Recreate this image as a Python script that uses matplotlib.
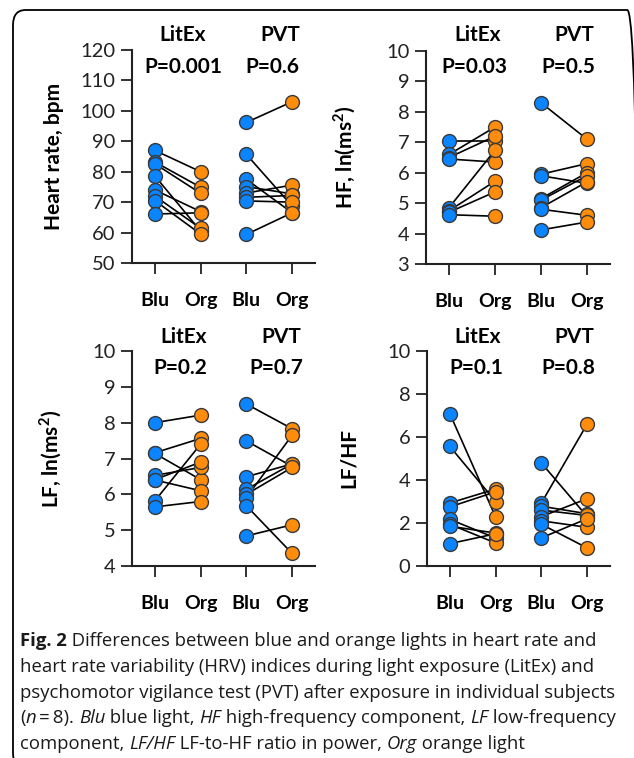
import matplotlib.pyplot as plt
import matplotlib.patches as mpatches
import numpy as np

# === Data (one value per subject, n = 8) ===
hr_litex_blu = [87.0, 83.2, 82.6, 78.6, 74.0, 72.0, 70.5, 66.1]
hr_litex_org = [80.0, 74.9, 72.9, 60.5, 66.9, 61.4, 59.5, 66.5]
hr_pvt_blu = [96.2, 85.7, 77.5, 75.1, 73.0, 71.6, 70.4, 59.4]
hr_pvt_org = [103.0, 68.7, 66.5, 72.7, 75.6, 72.2, 70.0, 66.5]

hf_litex_blu = [7.05, 6.60, 6.50, 6.45, 4.85, 4.75, 4.70, 4.62]
hf_litex_org = [7.05, 7.50, 7.20, 6.35, 6.74, 5.72, 5.37, 4.57]
hf_pvt_blu = [8.30, 5.95, 5.90, 5.15, 5.10, 4.85, 4.80, 4.12]
hf_pvt_org = [7.10, 6.30, 5.65, 6.00, 5.90, 5.70, 4.60, 4.38]

lf_litex_blu = [8.00, 7.16, 7.14, 6.53, 6.41, 6.40, 5.82, 5.65]
lf_litex_org = [8.21, 7.56, 6.41, 6.75, 6.90, 6.10, 7.40, 5.80]
lf_pvt_blu = [8.52, 7.49, 6.49, 6.14, 6.00, 5.91, 5.68, 4.84]
lf_pvt_org = [7.83, 6.78, 6.85, 6.85, 6.75, 7.65, 4.35, 5.15]

lfhf_litex_blu = [7.08, 5.56, 2.93, 2.75, 2.17, 1.94, 1.85, 1.04]
lfhf_litex_org = [2.28, 3.00, 3.58, 3.45, 1.30, 1.07, 1.53, 1.50]
lfhf_pvt_blu = [4.79, 2.93, 2.78, 2.60, 2.30, 2.10, 1.94, 1.31]
lfhf_pvt_org = [2.30, 6.60, 2.43, 2.35, 3.13, 1.80, 0.84, 2.20]

x_labels = ['Blu', 'Org', 'Blu', 'Org']
p_litex = ['P=0.001', 'P=0.03', 'P=0.2', 'P=0.1']
p_pvt = ['P=0.6', 'P=0.5', 'P=0.7', 'P=0.8']
y_titles = ['Heart rate, bpm', r'HF, ln(ms$^{\mathbf{2}}$)',
            r'LF, ln(ms$^{\mathbf{2}}$)', 'LF/HF']

# === Style ===
W, H = 634, 758
BLUE = '#0a84ff'
ORANGE = '#ff8c0a'
EDGE = '#3a3a3a'
plt.rcParams['font.family'] = ['Lato', 'DejaVu Sans']
plt.rcParams['mathtext.fontset'] = 'custom'
plt.rcParams['mathtext.rm'] = 'Lato'
plt.rcParams['mathtext.bf'] = 'Lato:bold'

fig = plt.figure(figsize=(W / 100, H / 100), dpi=100)


def px(x, y):
    return x / W, 1 - y / H


def make_axes(left, top, right, bottom):
    return fig.add_axes([left / W, 1 - bottom / H, (right - left) / W, (bottom - top) / H])


def draw_panel(ax, blu_l, org_l, blu_p, org_p, ylim, yticks, ytitle):
    for a, b in zip(blu_l, org_l):
        ax.plot([1, 2], [a, b], color='black', lw=1.2, zorder=2)
    for a, b in zip(blu_p, org_p):
        ax.plot([3, 4], [a, b], color='black', lw=1.2, zorder=2)
    ax.plot([1] * len(blu_l), blu_l, 'o', ms=10, mfc=BLUE, mec=EDGE, mew=1.0, zorder=3)
    ax.plot([2] * len(org_l), org_l, 'o', ms=10, mfc=ORANGE, mec=EDGE, mew=1.0, zorder=3)
    ax.plot([3] * len(blu_p), blu_p, 'o', ms=10, mfc=BLUE, mec=EDGE, mew=1.0, zorder=3)
    ax.plot([4] * len(org_p), org_p, 'o', ms=10, mfc=ORANGE, mec=EDGE, mew=1.0, zorder=3)
    ax.set_xlim(0.5, 4.5)
    ax.set_ylim(*ylim)
    ax.set_yticks(yticks)
    ax.set_xticks([1, 2, 3, 4])
    ax.set_xticklabels(x_labels, fontsize=14, fontweight='bold')
    ax.tick_params(axis='y', labelsize=14.5, length=8, width=1.3, pad=4,
                   color='#222222', labelcolor='#222222')
    ax.tick_params(axis='x', length=8, width=1.3, pad=13, color='#222222')
    for s in ['top', 'right']:
        ax.spines[s].set_visible(False)
    for s in ['left', 'bottom']:
        ax.spines[s].set_linewidth(1.5)
        ax.spines[s].set_color('#222222')
    ax.patch.set_alpha(0)
    ax.set_ylabel(ytitle, fontsize=15, fontweight='bold')
    ax.yaxis.set_label_coords(-0.37, 0.5)
    for sp in ax.spines.values():
        sp.set_clip_on(False)


ax1 = make_axes(132, 50, 315, 263)
draw_panel(ax1, hr_litex_blu, hr_litex_org, hr_pvt_blu, hr_pvt_org,
           (50, 120), np.arange(50, 121, 10), y_titles[0])
ax2 = make_axes(426, 51, 610, 264)
draw_panel(ax2, hf_litex_blu, hf_litex_org, hf_pvt_blu, hf_pvt_org,
           (3, 10), np.arange(3, 11, 1), y_titles[1])
ax3 = make_axes(132, 351, 315, 566)
draw_panel(ax3, lf_litex_blu, lf_litex_org, lf_pvt_blu, lf_pvt_org,
           (4, 10), np.arange(4, 11, 1), y_titles[2])
ax4 = make_axes(427, 351, 610, 566)
draw_panel(ax4, lfhf_litex_blu, lfhf_litex_org, lfhf_pvt_blu, lfhf_pvt_org,
           (0, 10), np.arange(0, 11, 2), y_titles[3])

# condition titles and P values (pixel positions)
title_pos = [(183, 280, 35, 183, 272, 67), (478, 574, 35, 474, 568, 67),
             (184, 281, 337, 180, 276, 368), (478, 574, 337, 476, 568, 368)]
for i, (xl, xp, yt, xpl, xpp, yp) in enumerate(title_pos):
    fig.text(*px(xl, yt), 'LitEx', ha='center', va='center', fontsize=15, fontweight='bold')
    fig.text(*px(xp, yt), 'PVT', ha='center', va='center', fontsize=15, fontweight='bold')
    fig.text(*px(xpl, yp), p_litex[i], ha='center', va='center', fontsize=15, fontweight='bold')
    fig.text(*px(xpp, yp), p_pvt[i], ha='center', va='center', fontsize=15, fontweight='bold')

# frame around the figure (right and bottom edges fall outside the picture)
frame = mpatches.FancyBboxPatch(px(13, 768), 627 / W, 758 / H,
                                boxstyle='round,pad=0,rounding_size=0.02',
                                transform=fig.transFigure, fill=False,
                                ec='black', lw=1.3)
fig.patches.append(frame)

# === Caption ===
cap_lines = [
    [('Fig. 2', 'bold', 'normal'), (' Differences between blue and orange lights in heart rate and', 'normal', 'normal')],
    [('heart rate variability (HRV) indices during light exposure (LitEx) and', 'normal', 'normal')],
    [('psychomotor vigilance test (PVT) after exposure in individual subjects', 'normal', 'normal')],
    [('(', 'normal', 'normal'), ('n', 'normal', 'italic'), ('\u2009=\u20098). ', 'normal', 'normal'),
     ('Blu', 'normal', 'italic'), (' blue light, ', 'normal', 'normal'),
     ('HF', 'normal', 'italic'), (' high-frequency component, ', 'normal', 'normal'),
     ('LF', 'normal', 'italic'), (' low-frequency', 'normal', 'normal')],
    [('component, ', 'normal', 'normal'), ('LF/HF', 'normal', 'italic'),
     (' LF-to-HF ratio in power, ', 'normal', 'normal'), ('Org', 'normal', 'italic'),
     (' orange light', 'normal', 'normal')],
]
cap_y = [641, 667, 693, 718, 744]
renderer = fig.canvas.get_renderer()
for runs, y in zip(cap_lines, cap_y):
    x = 20
    for txt, weight, style in runs:
        t = fig.text(*px(x, y), txt, ha='left', va='center', fontsize=13.3,
                     fontweight=weight, fontstyle=style,
                     family=['Open Sans', 'DejaVu Sans'], color='#1a1a1a')
        bb = t.get_window_extent(renderer=renderer)
        x += bb.width

fig.savefig('out.png', dpi=100)
